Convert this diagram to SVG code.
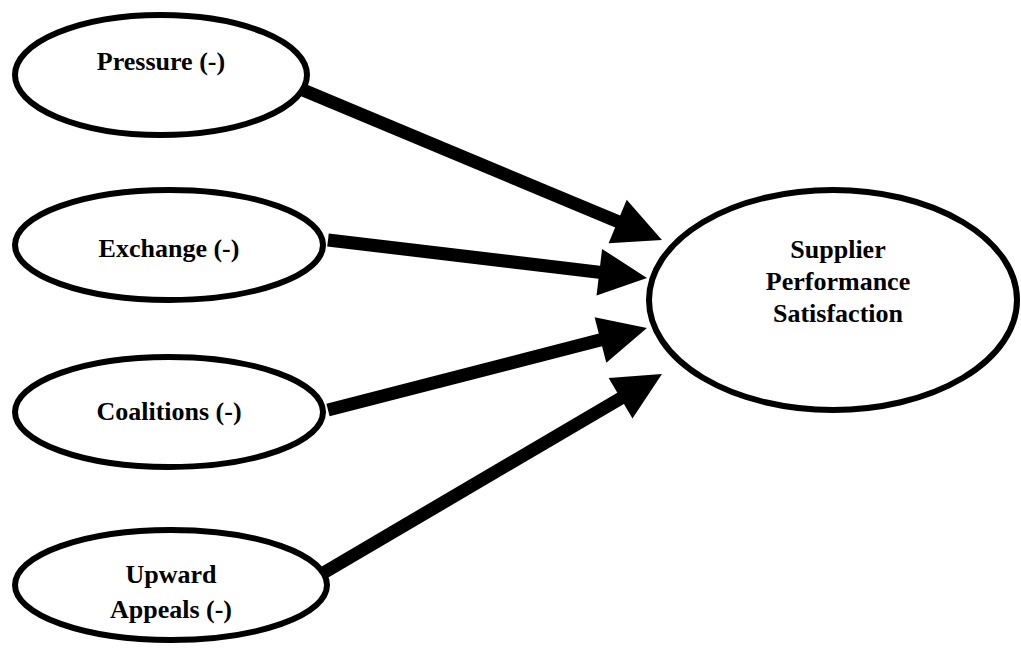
<svg xmlns="http://www.w3.org/2000/svg" width="1021" height="648" viewBox="0 0 1021 648">
<style>
.n{fill:#fff;stroke:#000;stroke-width:6}
.t{font-family:"Liberation Serif","Times New Roman",serif;font-weight:bold;font-size:26px;fill:#000;text-anchor:middle}
.c{stroke:#000;stroke-width:13;fill:none;marker-end:url(#ah)}
</style>
<defs>
<marker id="ah" markerUnits="userSpaceOnUse" markerWidth="50" markerHeight="48" refX="2" refY="23.5" orient="auto" viewBox="0 0 50 48" overflow="visible">
<path d="M0,0 L48,23.5 L0,47 Z" fill="#000"/>
</marker>
</defs>
<rect width="1021" height="648" fill="#fff"/>
<g id="connectors">
<line class="c" x1="303" y1="90" x2="619.5" y2="222.3"/>
<line class="c" x1="328" y1="240" x2="601.3" y2="272.5"/>
<line class="c" x1="328" y1="410" x2="602.4" y2="339.4"/>
<line class="c" x1="325" y1="572" x2="622.3" y2="397.3"/>
</g>
<g id="pressure">
<ellipse class="n" cx="161" cy="75" rx="146" ry="60"/>
<text class="t" x="161" y="70">Pressure (-)</text>
</g>
<g id="exchange">
<ellipse class="n" cx="169" cy="245" rx="154" ry="55"/>
<text class="t" x="169" y="257">Exchange (-)</text>
</g>
<g id="coalitions">
<ellipse class="n" cx="169" cy="412" rx="154" ry="55"/>
<text class="t" x="169" y="420">Coalitions (-)</text>
</g>
<g id="upward">
<ellipse class="n" cx="171" cy="585" rx="156" ry="55"/>
<text class="t" x="171" y="583">Upward</text>
<text class="t" x="171" y="618">Appeals (-)</text>
</g>
<g id="supplier">
<ellipse class="n" cx="833" cy="300" rx="184" ry="110"/>
<text class="t" x="838" y="258">Supplier</text>
<text class="t" x="838" y="290">Performance</text>
<text class="t" x="838" y="322">Satisfaction</text>
</g>
</svg>
